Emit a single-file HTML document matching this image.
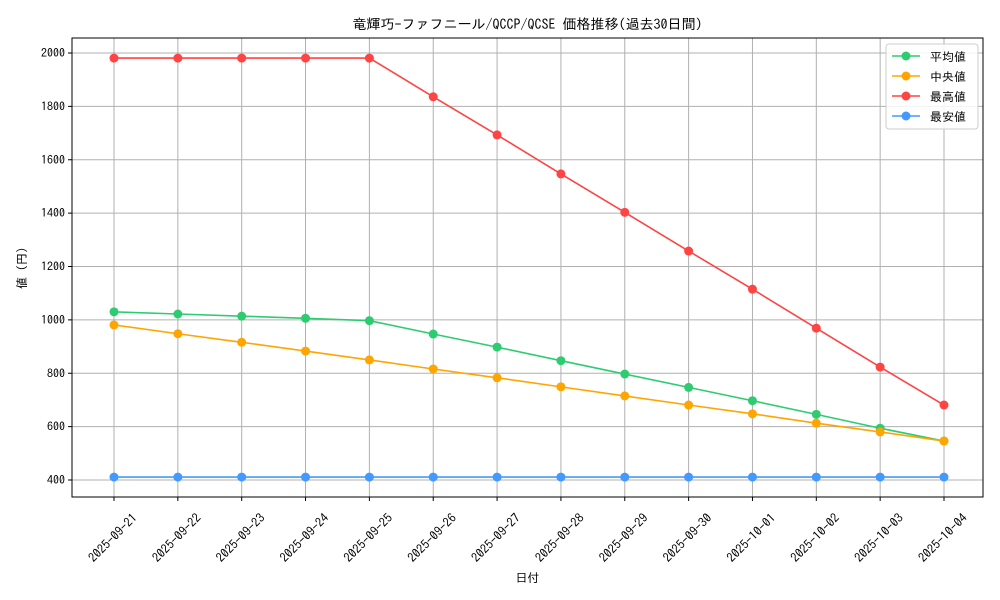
<!DOCTYPE html>
<html><head><meta charset="utf-8">
<style>
body{margin:0;background:#fff;}
svg{display:block;font-family:"IPAGothic","Liberation Sans","Noto Sans CJK JP",sans-serif;}
</style></head>
<body>
<svg id="chart" width="1000" height="600"></svg>
<script>
const dates=["2025-09-21","2025-09-22","2025-09-23","2025-09-24","2025-09-25","2025-09-26","2025-09-27","2025-09-28","2025-09-29","2025-09-30","2025-10-01","2025-10-02","2025-10-03","2025-10-04"];
const avgVals=[1030,1022,1014,1006,997,947,898,847,797,747,697,646,594,546];
const medVals=[981,948,916,883,850,816,783,749,715,681,648,613,580,546];
const maxVals=[1981,1981,1981,1981,1981,1836,1693,1547,1403,1258,1115,969,823,681];
const minVals=[411,411,411,411,411,411,411,411,411,411,411,411,411,411];
const yTicks=[400,600,800,1000,1200,1400,1600,1800,2000];
const seriesNames=["平均値","中央値","最高値","最安値"];
const seriesColors=["#2ecc71","#ffa500","#ff4444","#4499ff"];

const NS="http://www.w3.org/2000/svg";
const svg=document.getElementById('chart');
const L=72,R=983,T=38,B=497;
const xS=i=>114+i*(944-114)/(dates.length-1);
const yS=v=>480-(v-400)*(480-53)/1600;
function mk(tag,attrs,parent){const e=document.createElementNS(NS,tag);for(const k in attrs)e.setAttribute(k,attrs[k]);(parent||svg).appendChild(e);return e;}

const grid=mk('g',{});


dates.forEach((d,i)=>mk('line',{x1:xS(i),x2:xS(i),y1:T,y2:B,stroke:'#b0b0b0','stroke-width':1},grid));
yTicks.forEach(v=>mk('line',{x1:L,x2:R,y1:yS(v),y2:yS(v),stroke:'#b0b0b0','stroke-width':1},grid));

const xt=mk('g',{});


dates.forEach((d,i)=>{
  mk('line',{x1:xS(i),x2:xS(i),y1:B,y2:B+4,stroke:'#000'},xt);
  const cx=xS(i)-1, cy=538;
  const t=mk('text',{x:cx,y:cy+4,'font-size':12.5,'text-anchor':'middle',transform:`rotate(-45 ${cx} ${cy})`},xt);
  t.textContent=d;
});
const yt=mk('g',{});


yTicks.forEach(v=>{
  mk('line',{x1:L-4,x2:L,y1:yS(v),y2:yS(v),stroke:'#000'},yt);
  const t=mk('text',{x:L-7,y:yS(v)+4,'font-size':12,'text-anchor':'end'},yt);
  t.textContent=v;
});

const all=[avgVals,medVals,maxVals,minVals];
all.forEach((vals,s)=>{
  const g=mk('g',{});
  
  
  mk('polyline',{points:vals.map((v,i)=>xS(i)+','+yS(v)).join(' '),fill:'none',stroke:seriesColors[s],'stroke-width':1.6},g);
  vals.forEach((v,i)=>{
    const c=mk('circle',{cx:xS(i),cy:yS(v),r:4.5,fill:seriesColors[s]},g);
    
    
  });
});

const fr=mk('rect',{x:L,y:T,width:R-L,height:B-T,fill:'none',stroke:'#000','stroke-width':1});



const title=mk('text',{x:(L+R)/2,y:29,'font-size':14,'text-anchor':'middle'});
title.textContent='竜輝巧-ファフニール/QCCP/QCSE 価格推移(過去30日間)';


const xl=mk('text',{x:(L+R)/2,y:582,'font-size':12,'text-anchor':'middle'});
xl.textContent='日付';


const yl=mk('text',{x:26,y:268,'font-size':12,'text-anchor':'middle',transform:'rotate(-90 26 268)'});
yl.textContent='値 (円)';



const lg=mk('g',{});


mk('rect',{x:886,y:44,width:92,height:85,fill:'#fff','fill-opacity':0.85,stroke:'#ccc',rx:3},lg);
seriesNames.forEach((n,s)=>{
  const y=56+s*20;
  const e=mk('g',{},lg);
  
  
  mk('line',{x1:892,x2:920,y1:y,y2:y,stroke:seriesColors[s],'stroke-width':1.6},e);
  mk('circle',{cx:906,cy:y,r:4.5,fill:seriesColors[s]},e);
  const t=mk('text',{x:930,y:y+5,'font-size':12},e);
  t.textContent=n;
});
</script>
</body></html>
